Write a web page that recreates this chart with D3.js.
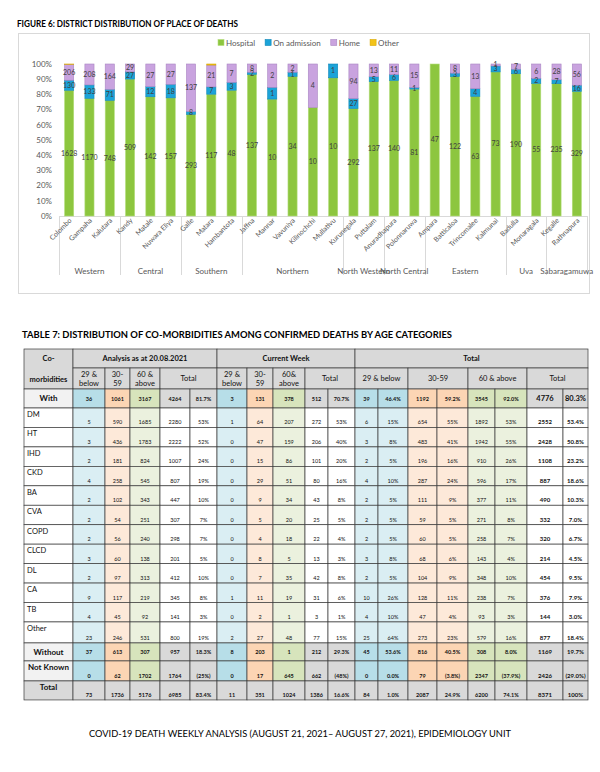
<!DOCTYPE html>
<html><head><meta charset="utf-8">
<script src="https://cdn.jsdelivr.net/npm/d3@7"></script>
<style>body{margin:0;background:#fff} svg{display:block} text{font-family:Lato,"Open Sans",sans-serif}</style>
</head><body><svg id="c" width="600" height="772"></svg>
<script>
// ---------- Figure 6 data ----------
const districts = ["Colombo","Gampaha","Kalutara","Kandy","Matale","Nuwara Eliya","Galle","Matara","Hambantota","Jaffna","Mannar","Vavuniya","Kilinochchi","Mullativu","Kurunegala","Puttalam","Anuradhapura","Polonnaruwa","Ampara","Batticaloa","Trincomalee","Kalmunai","Badulla","Monaragala","Kegalle","Rathnapura"];
const provinces = ["Western","Central","Southern","Northern","North Western","North Central","Eastern","Uva","Sabaragamuwa"];
const provinceSizes = [3,3,3,5,2,2,4,2,2];
const hospital    = [1628,1170,748,509,142,157,293,117,48,137,10,34,10,10,292,137,140,81,47,122,63,73,190,55,235,329];
const onAdmission = [130,133,71,27,12,18,8,7,3,2,1,1,0,1,27,5,6,1,0,3,4,3,6,2,7,16];
const home        = [206,208,164,29,27,27,137,21,7,8,2,2,4,0,94,13,11,15,0,8,13,1,7,6,28,56];
const other       = [4,0,0,0,0,0,0,1,0,0,0,0,0,0,0,0,0,0,0,0,0,0,0,0,0,0];
const seriesNames = ["Hospital","On admission","Home","Other"];
const yTicks = [0,0.1,0.2,0.3,0.4,0.5,0.6,0.7,0.8,0.9,1];

// ---------- Table 7 data ----------
const rowLabels = ["With","DM","HT","IHD","CKD","BA","CVA","COPD","CLCD","DL","CA","TB","Other","Without","Not Known","Total"];
const prevWeek = [
 ["36","1061","3167","4264","81.7%"],["5","590","1685","2280","53%"],["3","436","1783","2222","52%"],
 ["2","181","824","1007","24%"],["4","258","545","807","19%"],["2","102","343","447","10%"],
 ["2","54","251","307","7%"],["2","56","240","298","7%"],["3","60","138","201","5%"],
 ["2","97","313","412","10%"],["9","117","219","345","8%"],["4","45","92","141","3%"],
 ["23","246","531","800","19%"],["37","613","307","957","18.3%"],["0","62","1702","1764","(25%)"],
 ["73","1736","5176","6985","83.4%"]];
const currentWeek = [
 ["3","131","378","512","70.7%"],["1","64","207","272","53%"],["0","47","159","206","40%"],
 ["0","15","86","101","20%"],["0","29","51","80","16%"],["0","9","34","43","8%"],
 ["0","5","20","25","5%"],["0","4","18","22","4%"],["0","8","5","13","3%"],
 ["0","7","35","42","8%"],["1","11","19","31","6%"],["0","2","1","3","1%"],
 ["2","27","48","77","15%"],["8","203","1","212","29.3%"],["0","17","645","662","(48%)"],
 ["11","351","1024","1386","16.6%"]];
const totalSection = [
 ["39","46.4%","1192","59.2%","3545","92.0%","4776","80.3%"],
 ["6","15%","654","55%","1892","53%","2552","53.4%"],
 ["3","8%","483","41%","1942","55%","2428","50.8%"],
 ["2","5%","196","16%","910","26%","1108","23.2%"],
 ["4","10%","287","24%","596","17%","887","18.6%"],
 ["2","5%","111","9%","377","11%","490","10.3%"],
 ["2","5%","59","5%","271","8%","332","7.0%"],
 ["2","5%","60","5%","258","7%","320","6.7%"],
 ["3","8%","68","6%","143","4%","214","4.5%"],
 ["2","5%","104","9%","348","10%","454","9.5%"],
 ["10","26%","128","11%","238","7%","376","7.9%"],
 ["4","10%","47","4%","93","3%","144","3.0%"],
 ["25","64%","273","23%","579","16%","877","18.4%"],
 ["45","53.6%","816","40.5%","308","8.0%","1169","19.7%"],
 ["0","0.0%","79","(3.8%)","2347","(37.9%)","2426","(29.0%)"],
 ["84","1.0%","2087","24.9%","6200","74.1%","8371","100%"]];

const svg = d3.select("#c");
svg.append("rect").attr("width",600).attr("height",772).attr("fill","#fff");

// ---------- Figure ----------
svg.append("text").attr("x",17).attr("y",27).attr("font-weight",700).attr("font-size",9.5)
  .attr("textLength",221).attr("lengthAdjust","spacingAndGlyphs")
  .text("FIGURE 6: DISTRICT DISTRIBUTION OF PLACE OF DEATHS");
svg.append("rect").attr("x",18.5).attr("y",33.5).attr("width",571).attr("height",260)
  .attr("fill","#fff").attr("stroke","#d9d9d9");

const colors = ["#8dc63f","#1ba3d8","#c9a3df","#f3c318"];
const strokes = ["#b5de7e","#0e86b8","#a985c2","#d9a800"];

// legend
let lx = 218;
seriesNames.forEach((n,i)=>{
  svg.append("rect").attr("x",lx).attr("y",39.5).attr("width",6).attr("height",6).attr("fill",colors[i]).attr("stroke",strokes[i]).attr("stroke-width",0.6);
  const t = svg.append("text").attr("x",lx+8).attr("y",45.5).attr("font-size",8).attr("fill","#595959").text(n);
  lx += 8 + t.node().getComputedTextLength() + 10;
});

const x = d3.scaleBand().domain(districts).range([59,587]).paddingInner(0.55).paddingOuter(0.275);
const y = d3.scaleLinear().domain([0,1]).range([216,64]);
const rows = districts.map((d,i)=>({district:d, "Hospital":hospital[i], "On admission":onAdmission[i], "Home":home[i], "Other":other[i]}));
const stacked = d3.stack().keys(seriesNames).offset(d3.stackOffsetExpand)(rows);

// y labels
svg.append("g").selectAll("text").data(yTicks).join("text")
  .attr("x",52).attr("y",d=>y(d)).attr("dy","0.35em").attr("text-anchor","end")
  .attr("font-size",8).attr("fill","#595959").text(d=>d3.format(".0%")(d));

// category axis
const step = x.step();
svg.append("line").attr("x1",x.range()[0]).attr("x2",x.range()[1]).attr("y1",216.5).attr("y2",216.5).attr("stroke","#d9d9d9");
const bounds = [0, ...Array.from(d3.cumsum(provinceSizes))];
const edgeX = i => i < districts.length ? x(districts[i]) + x.bandwidth()/2 - step/2 : x(districts[districts.length-1]) + x.bandwidth()/2 + step/2;
bounds.forEach(b=>{
  const xx = Math.round(edgeX(b))+0.5;
  svg.append("line").attr("x1",xx).attr("x2",xx).attr("y1",216).attr("y2",275).attr("stroke","#d9d9d9");
});
provinces.forEach((p,i)=>{
  const cx = (edgeX(bounds[i]) + edgeX(bounds[i+1]))/2;
  svg.append("text").attr("x",cx).attr("y",274).attr("text-anchor","middle").attr("font-size",8).attr("fill","#595959").text(p);
});
svg.append("g").selectAll("text").data(districts).join("text")
  .attr("transform",d=>`translate(${x(d)+x.bandwidth()/2+3},221) rotate(-45)`)
  .attr("text-anchor","end").attr("font-size",7).attr("fill","#595959").text(d=>d);

// bars
const g = svg.append("g");
stacked.forEach((s,si)=>{
  g.append("g").selectAll("rect").data(s).join("rect")
    .attr("x",d=>x(d.data.district)).attr("width",x.bandwidth())
    .attr("y",d=>y(d[1])).attr("height",d=>Math.max(0,y(d[0])-y(d[1])))
    .attr("fill",colors[si]).attr("stroke",strokes[si]).attr("stroke-width",0.6);
});
stacked.slice(0,3).forEach((s,si)=>{
  g.append("g").selectAll("text").data(s.filter(d=>d.data[seriesNames[si]]>0)).join("text")
    .attr("x",d=>x(d.data.district)+x.bandwidth()/2).attr("y",d=>(y(d[0])+y(d[1]))/2).attr("dy","0.35em")
    .attr("text-anchor","middle").attr("font-size",7).attr("fill","#404040")
    .text(d=>d.data[seriesNames[si]]);
});

// ---------- Table ----------
svg.append("text").attr("x",22).attr("y",338).attr("font-weight",700).attr("font-size",9.5)
  .attr("textLength",430).attr("lengthAdjust","spacingAndGlyphs")
  .text("TABLE 7: DISTRIBUTION OF CO-MORBIDITIES AMONG CONFIRMED DEATHS BY AGE CATEGORIES");

const colW = [49,32,25,30,30,27,30,26,32,23,27,23,30,29,31,27,32,36,25];
const colE = [24, ...Array.from(d3.cumsum(colW)).map(v=>24+v)];
const rowH = [19,19.45,19.45,19.45,19.45,19.45,19.45,19.45,19.45,19.45,19.45,19.45,21,18,20,19];
const rowE = [389, ...Array.from(d3.cumsum(rowH)).map(v=>389+v)];
const grey="#d9d9d9", lgrey="#f2f2f2";
const strong = {b:"#b7dee8",o:"#fcd5b4",g:"#d7e4bc",t:grey};
const light  = {b:"#daeef3",o:"#fde9d9",g:"#ebf1de",t:"#fff"};
const colGroup = ["l","b","o","g","t","t","b","o","g","t","t","b","b","o","o","g","g","t","t"];
const T = svg.append("g");
function cell(c0,c1,y0,y1,fill){
  T.append("rect").attr("x",colE[c0]).attr("y",y0).attr("width",colE[c1]-colE[c0]).attr("height",y1-y0)
   .attr("fill",fill).attr("stroke","#3a3a3a").attr("stroke-width",0.7);
}
function txt(x0,y0,s,opt={}){
  return T.append("text").attr("x",x0).attr("y",y0).attr("font-size",opt.size||7.5)
   .attr("font-weight",opt.bold?700:400).attr("text-anchor",opt.anchor||"middle").attr("fill","#111").text(s);
}
const mid = (c0,c1)=>(colE[c0]+colE[c1])/2;
// header
cell(0,1,349,389,grey);
txt(mid(0,1),361,"Co-",{bold:true});
txt(mid(0,1),382,"morbidities",{bold:true});
[[1,6,"Analysis as at 20.08.2021"],[6,11,"Current Week"],[11,19,"Total"]].forEach(([a,b,s])=>{
  cell(a,b,349,368,grey); txt(mid(a,b),361,s,{bold:true});
});
const h2 = [[1,2,["29 &","below"]],[2,3,["30-","59"]],[3,4,["60 &","above"]],[4,6,["Total"]],
            [6,7,["29 &","below"]],[7,8,["30-","59"]],[8,9,["60&","above"]],[9,11,["Total"]],
            [11,13,["29 & below"]],[13,15,["30-59"]],[15,17,["60 & above"]],[17,19,["Total"]]];
h2.forEach(([a,b,ls])=>{
  cell(a,b,368,389,grey);
  if(ls.length===2){ txt(mid(a,b),377,ls[0]); txt(mid(a,b),386,ls[1]); }
  else txt(mid(a,b),381,ls[0]);
});
// body
rowLabels.forEach((lab,r)=>{
  const y0=rowE[r], y1=rowE[r+1];
  const isStrong = (lab==="With"||lab==="Without"||lab==="Not Known");
  const isTotal = lab==="Total";
  const centered = (lab==="With"||lab==="Without");
  const vals = [lab].concat(prevWeek[r], currentWeek[r], totalSection[r]);
  vals.forEach((v,c)=>{
    let fill;
    if(c===0) fill = isTotal?grey:(isStrong?lgrey:"#fff");
    else if(isTotal) fill = grey;
    else fill = (isStrong?strong:light)[colGroup[c]];
    cell(c,c+1,y0,y1,fill);
    if(c===0){
      if(isStrong||isTotal) txt(mid(0,1), centered? (y0+y1)/2+2.8 : y0+9, v, {bold:true,size:8});
      else txt(colE[0]+3, y0+9, v, {anchor:"start",size:7.5});
    } else {
      const big = c>=17;
      const size = big ? (lab==="With"?7.5:6) : 5.5;
      const bold = isStrong||isTotal||big;
      txt(mid(c,c+1), centered ? (y0+y1)/2+2 : y1-3, v, {bold, size});
    }
  });
});

// footer
svg.append("text").attr("x",300).attr("y",737).attr("text-anchor","middle").attr("font-size",10)
  .attr("textLength",422).attr("lengthAdjust","spacingAndGlyphs")
  .text("COVID-19 DEATH WEEKLY ANALYSIS (AUGUST 21, 2021– AUGUST 27, 2021), EPIDEMIOLOGY UNIT");
</script></body></html>
